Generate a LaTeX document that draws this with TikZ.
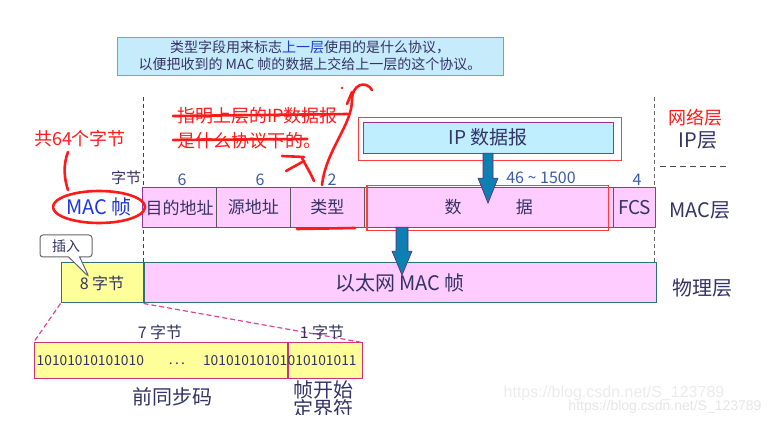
\documentclass[tikz,border=0pt]{standalone}
\usepackage{fontspec}
\usepackage{xcolor}
\setmainfont{Noto Sans CJK SC}
\newfontfamily\wmfont{Liberation Sans}
\usetikzlibrary{positioning,calc,shapes.callouts}

\definecolor{txtnavy}{HTML}{333366}
\definecolor{numblue}{HTML}{3A5CA8}
\definecolor{macblue}{HTML}{1F35E0}
\definecolor{capfill}{HTML}{C6EBFB}
\definecolor{capline}{HTML}{6FA0D8}
\definecolor{capblue}{HTML}{1F3FD0}
\definecolor{framepink}{HTML}{FFCCFF}
\definecolor{framepurple}{HTML}{993399}
\definecolor{ipfill}{HTML}{BFEEFF}
\definecolor{preyellow}{HTML}{FFFF99}
\definecolor{rowteal}{HTML}{2F6F7F}
\definecolor{syncline}{HTML}{CC3377}
\definecolor{pinkdash}{HTML}{DD4499}
\definecolor{penred}{HTML}{FF1A1A}
\definecolor{arrowblue}{HTML}{0E7FB3}

\tikzset{
  txt/.style={text=txtnavy,inner sep=0pt},
  capbox/.style={draw=capline,fill=capfill,align=center,text=txtnavy,
    font=\fontsize{14}{17}\selectfont,inner sep=0pt},
  cell/.style={fill=framepink,minimum height=39,inner sep=0pt,text=txtnavy,
    font=\fontsize{17}{17}\selectfont},
  numlab/.style={text=numblue,font=\fontsize{16}{16}\selectfont,inner sep=0pt},
  ipbox/.style={draw=framepurple,fill=ipfill,inner sep=0pt,text=txtnavy,
    font=\fontsize{19}{19}\selectfont},
  redframe/.style={draw=penred!85,line width=1.3pt},
  bluearrow/.style={fill=arrowblue,draw=framepurple!70!black,line width=0.6pt},
  rowbox/.style={draw=rowteal,line width=1pt,inner sep=0pt,minimum height=40,
    text=txtnavy},
  syncbox/.style={draw=syncline,line width=1pt,fill=preyellow,inner sep=0pt,
    minimum height=35},
  bits/.style={text=txtnavy,inner sep=0pt,font=\fontsize{13.8}{14}\selectfont},
  layerline/.style={draw=black!75,line width=1pt,dash pattern=on 4pt off 3pt},
  redpen/.style={draw=penred,line width=2.6pt,line cap=round,line join=round},
  redtxt/.style={text=penred,inner sep=0pt,font=\fontsize{18}{18}\selectfont},
  sidelab/.style={text=txtnavy,inner sep=0pt,font=\fontsize{20}{20}\selectfont},
}

\begin{document}
\begin{tikzpicture}[x=1pt,y=-1pt]
\useasboundingbox (0,0) rectangle (784,427);

% watermark
\node[text=black!8,font=\wmfont\fontsize{16}{16}\selectfont,inner sep=0pt] (wm1) at (614,393) {https://blog.csdn.net/S\_123789};
\node[text=black!10,font=\wmfont\fontsize{14}{14}\selectfont,inner sep=0pt] (wm2) at (665,407) {https://blog.csdn.net/S\_123789};

% note on top
\node[capbox,minimum width=386,minimum height=38] (cap) at (310,56)
  {类型字段用来标志\textcolor{capblue}{上一层}使用的是什么协议，\\以便把收到的 MAC 帧的数据上交给上一层的这个协议。};

% layer borders
\coordinate (lt) at (143,97);
\coordinate (lb) at (143,263);
\coordinate (rt) at (654,97);
\coordinate (rb) at (654,263);
\draw[layerline] (lt) -- (lb);
\draw[layerline,draw=black!60] (rt) -- (rb);
\coordinate (sl) at (660,167);
\coordinate (sr) at (728,167);
\draw[draw=black!70,line width=1pt,dash pattern=on 6pt off 4pt] (sl) -- (sr);

% IP datagram
\node[ipbox,minimum width=250,minimum height=31] (ip) at (488,137.5) {IP 数据报};
\draw[redframe] ($(ip.north west)+(-4,-4)$) rectangle ($(ip.south east)+(8,7)$);

% MAC frame
\node[cell,minimum width=73] (dst) at (179.5,207.5) {目的地址};
\node[cell,minimum width=74,right=0pt of dst] (src) {源地址};
\node[cell,minimum width=73,right=0pt of src] (typ) {类型};
\node[cell,minimum width=249,right=0pt of typ] (dat) {数\hspace{3.2em}据};
\node[cell,minimum width=42,right=0pt of dat,font=\fontsize{19}{19}\selectfont] (fcs) {FCS};
\draw[framepurple,line width=1pt] (dst.north west) rectangle (fcs.south east);
\foreach \c in {dst,src,typ,dat}
  \draw[black!65,line width=1pt] (\c.north east) -- (\c.south east);
\draw[redframe] ($(dat.north west)+(3,-2)$) rectangle ($(dat.south east)+(-5,3)$);

% field sizes
\node[txt,font=\fontsize{15}{15}\selectfont] (unit) at (126,178) {字节};
\node[numlab] at (182,180) {6};
\node[numlab] at (260,180) {6};
\node[numlab] at (332,180) {2};
\node[numlab] at (541,178) {46 \textasciitilde{} 1500};
\node[numlab] at (637,180) {4};

% MAC frame label
\node[text=macblue,inner sep=0pt,font=\fontsize{20}{20}\selectfont] (mac) at (99,207) {MAC 帧};

% physical frame
\node[rowbox,fill=preyellow,minimum width=82,font=\fontsize{16}{16}\selectfont] (pre8) at (102,283) {8 字节};
\node[rowbox,fill=framepink,minimum width=512,right=0pt of pre8,font=\fontsize{20}{20}\selectfont] (eth) {以太网 MAC 帧};

% blue arrows
\filldraw[bluearrow] (ip.south) ++(-5,0) -- ++(0,25) -- ++(-5,0) -- ++(10,25)
  -- ++(10,-25) -- ++(-5,0) -- ++(0,-25) -- cycle;
\filldraw[bluearrow] ($(dat.south west)+(38,0)$) ++(-6,0) -- ++(0,24) -- ++(-4,0) -- ++(10,24)
  -- ++(10,-24) -- ++(-4,0) -- ++(0,-24) -- cycle;

% insert callout
\node[rectangle callout,draw=black!60,line width=1pt,fill=white,rounded corners=3pt,
  minimum width=52,minimum height=22,inner sep=0pt,text=txtnavy,
  font=\fontsize{14}{14}\selectfont,callout absolute pointer={(89,277)},
  callout pointer width=11pt] (ins) at (66,246) {插入};

% preamble
\node[syncbox,minimum width=253] (sync) at (160.5,360.5) {};
\node[syncbox,minimum width=74,right=0pt of sync] (sfd) {};
\node[bits,anchor=west] (b1) at ($(sync.west)+(3,0)$) {10101010101010};
\node[bits] (b2) at (177,364) {.\,.\,.};
\node[bits,anchor=east] (b3) at (sync.east) {10101010101};
\node[bits,anchor=west] (b4) at (sfd.west) {010101011};
\draw[pinkdash,line width=1.2pt,dash pattern=on 5pt off 3pt] (pre8.south west) -- (sync.north west);
\draw[pinkdash,line width=1.2pt,dash pattern=on 5pt off 3pt] (pre8.south east) -- (sfd.north east);
\node[txt,font=\fontsize{16}{16}\selectfont] at (160,332) {7 字节};
\node[txt,font=\fontsize{16}{16}\selectfont] at (322,332) {1 字节};
\node[txt,font=\fontsize{20}{20}\selectfont] (sync lab) at (172,397) {前同步码};
\begin{scope}
\clip (0,0) rectangle (784,414);
\node[txt,align=center,font=\fontsize{20}{19}\selectfont] (sfd lab) at (323,399) {帧开始\\定界符};
\end{scope}

% layer names
\node[sidelab,text=penred,font=\fontsize{18}{18}\selectfont] (net) at (695,118) {网络层};
\node[sidelab] (ipl) at (698,140) {IP层};
\node[sidelab] (macl) at (700,210) {MAC层};
\node[sidelab] (phy) at (702,288) {物理层};

% hand notes in red
\node[redtxt] (total) at (80,139) {共64个字节};
\draw[redpen] (68,152) .. controls (63,165) and (64,178) .. (68,190);
\draw[redpen] (mac) ellipse [x radius=46,y radius=16];
\node[redtxt,anchor=west] (note1) at (177,116) {指明上层的IP数据报};
\node[redtxt,anchor=west] (note2) at (177,141) {是什么协议下的。};
\draw[redpen] ($(note1.west)+(-4,0)$) -- ($(note1.east)+(10,-2)$);
\draw[redpen] ($(note2.west)+(-4,-1)$) -- ($(note2.east)+(-14,-2)$);
\draw[redpen] (282,156) -- (304,157);
\draw[redpen] (286,171) -- (304,161);
\draw[redpen] (302,158) .. controls (306,166) and (310,172) .. (314,181);
\draw[redpen] (322,185) .. controls (326,150) and (352,125) .. (352,100)
  .. controls (352,84) and (366,80) .. (372,90);
\draw[redpen] (352,92) -- (347,104);
\fill[penred] (342,88) circle (1.4);
\draw[redpen] (297,229) -- (355,228);
\end{tikzpicture}
\end{document}
